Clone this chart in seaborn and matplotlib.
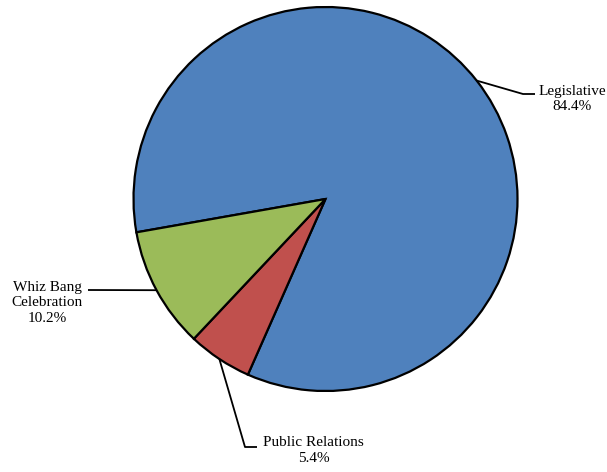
import numpy as np
import matplotlib
matplotlib.use("Agg")
import matplotlib.pyplot as plt
import seaborn as sns

# Budget allocation by program
categories = ["Legislative", "Public Relations", "Whiz Bang\nCelebration"]
shares = [84.4, 5.4, 10.2]

sns.set_theme(style="white")
plt.rcParams["font.family"] = ["Liberation Serif", "DejaVu Serif"]
colors = sns.color_palette(["#4F81BD", "#C0504D", "#9BBB59"])

W, H = 607, 472
fig = plt.figure(figsize=(W / 100, H / 100), dpi=100)
ax = fig.add_axes([0, 0, 1, 1])

cx, cy, r = 325.5, 273.0, 192.0
wedges, _ = ax.pie(
    shares,
    colors=colors,
    startangle=190,
    counterclock=False,
    center=(cx, cy),
    radius=r,
    wedgeprops=dict(edgecolor="black", linewidth=1.6),
    frame=True,
)
ax.set_xlim(0, W)
ax.set_ylim(0, H)
ax.set_aspect("equal")
ax.axis("off")

# Leader line elbows and label anchors (pixel space, y up)
elbows = [
    [(523, 378), (535, 378)],
    [(245, 25), (257, 25)],
    [(88, 182)],
]
label_pos = [(572, 373), (313.5, 21), (47, 169)]

for w, cat, val, elb, pos in zip(wedges, categories, shares, elbows, label_pos):
    mid = np.deg2rad((w.theta1 + w.theta2) / 2)
    start = (cx + r * np.cos(mid), cy + r * np.sin(mid))
    pts = [start] + elb
    xs, ys = zip(*pts)
    ax.plot(xs, ys, color="black", lw=1.3, solid_capstyle="butt", clip_on=False)
    ax.text(pos[0], pos[1], f"{cat}\n{val:.1f}%", ha="center", va="center",
            multialignment="center", fontsize=11, color="black", linespacing=1.3)

fig.savefig("out.png", dpi=100)
